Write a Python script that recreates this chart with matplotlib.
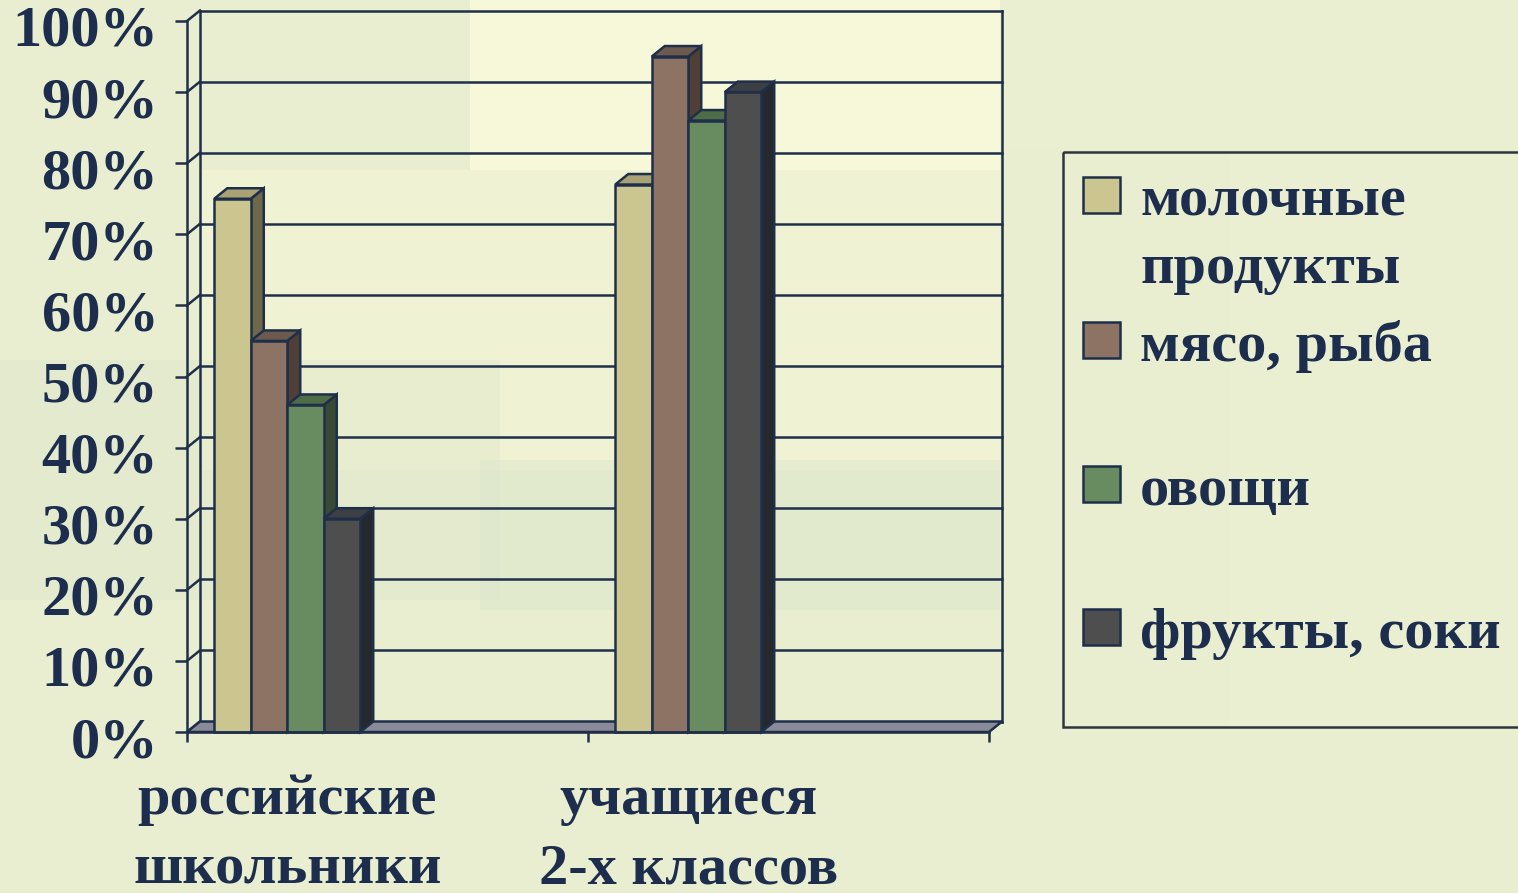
import matplotlib.pyplot as plt
from matplotlib.patches import Polygon, Rectangle
from matplotlib.transforms import Affine2D, ScaledTranslation
from matplotlib.ticker import PercentFormatter

categories = ['российские\nшкольники', 'учащиеся\n2-х классов']
series = ['молочные\nпродукты', 'мясо, рыба', 'овощи', 'фрукты, соки']
values = [
    [75, 77],   # молочные продукты
    [55, 95],   # мясо, рыба
    [46, 86],   # овощи
    [30, 90],   # фрукты, соки
]
y_ticks = list(range(0, 101, 10))

front_colors = ['#cbc590', '#8c7363', '#688b5f', '#4e4e4e']
top_colors = ['#a8a274', '#6d5a4e', '#4f6c48', '#3c3f45']
side_colors = ['#6d6849', '#4f3f36', '#384a33', '#25292d']
edge = '#1f2f4a'
text_color = '#1c2d4d'
font = 'Liberation Serif'
fsize = 42

W, H = 1518, 893
fig = plt.figure(figsize=(W / 100, H / 100), dpi=100)
fig.patch.set_facecolor('#e8eecf')

# pixel coords (origin top-left) for decoration / legend
px = Affine2D().scale(1 / W, -1 / H).translate(0, 1) + fig.transFigure

# soft photo-like background blocks
for (x, y, w, h, c, a) in [
    (470, 0, 530, 170, '#fbfbdc', 0.8),
    (200, 170, 800, 300, '#f6f7d8', 0.5),
    (0, 360, 500, 240, '#dfe6cd', 0.4),
    (480, 460, 520, 150, '#d9e4cc', 0.4),
    (1000, 0, 518, 150, '#eef1d4', 0.5),
    (1230, 150, 288, 580, '#f1f3d6', 0.4),
]:
    fig.patches.append(Rectangle((x, y), w, h, transform=px, facecolor=c,
                                 alpha=a, edgecolor='none', zorder=-5))

ax = fig.add_axes([187 / W, (H - 732) / H, 802 / W, 711 / H])
ax.patch.set_alpha(0)
xmin, xmax = -0.25, 1.75
ax.set_xlim(xmin, xmax)
ax.set_ylim(0, 100)

# depth offset in data units
dx = 13 / 401
dy = 10.5 / 7.11

lw = 1.8
# back wall grid lines and edges
for t in y_ticks:
    ax.plot([xmin + dx, xmax + dx], [t + dy, t + dy], color=edge, lw=lw,
            clip_on=False, zorder=1)
    ax.plot([xmin, xmin + dx], [t, t + dy], color=edge, lw=lw,
            clip_on=False, zorder=1)
ax.plot([xmin + dx, xmin + dx], [dy, 100 + dy], color=edge, lw=lw,
        clip_on=False, zorder=1)
ax.plot([xmax + dx, xmax + dx], [dy, 100 + dy], color=edge, lw=lw,
        clip_on=False, zorder=1)

# floor
ax.add_patch(Polygon([(xmin, 0), (xmax, 0), (xmax + dx, dy), (xmin + dx, dy)],
                     closed=True, facecolor='#8b8a98', edgecolor=edge, lw=lw,
                     clip_on=False, zorder=2))

# 3D-style bars
n = len(series)
bw = 0.091
for ci in range(len(categories)):
    for si in range(n):
        v = values[si][ci]
        x0 = ci + (si - n / 2) * bw
        x1 = x0 + bw
        z = 3 + si * 0.1 + ci
        ax.add_patch(Polygon([(x1, 0), (x1, v), (x1 + dx, v + dy), (x1 + dx, dy)],
                             closed=True, facecolor=side_colors[si],
                             edgecolor=edge, lw=lw, clip_on=False, zorder=z))
        ax.add_patch(Polygon([(x0, v), (x0 + dx, v + dy), (x1 + dx, v + dy), (x1, v)],
                             closed=True, facecolor=top_colors[si],
                             edgecolor=edge, lw=lw, clip_on=False, zorder=z + 0.01))
        ax.bar(x0, v, width=bw, align='edge', color=front_colors[si],
               edgecolor=edge, lw=lw, clip_on=False, zorder=z + 0.02)

for s in ['top', 'right']:
    ax.spines[s].set_visible(False)
for s in ['left', 'bottom']:
    ax.spines[s].set_color(edge)
    ax.spines[s].set_linewidth(lw)
    ax.spines[s].set_zorder(10)

ax.set_yticks(y_ticks)
ax.yaxis.set_major_formatter(PercentFormatter(100, decimals=0))
ax.tick_params(axis='y', length=8.6, width=lw, color=edge, pad=12,
               labelsize=fsize, labelcolor=text_color)
shift = ScaledTranslation(0, -0.05, fig.dpi_scale_trans)
for lab in ax.get_yticklabels():
    lab.set_fontfamily(font)
    lab.set_fontweight('bold')
    lab.set_transform(lab.get_transform() + shift)

ax.set_xticks([xmin, 0.75, xmax])
ax.set_xticklabels([])
ax.tick_params(axis='x', which='major', length=7.2, width=lw, color=edge)
ax.set_xticks(range(len(categories)), minor=True)
ax.set_xticklabels(categories, minor=True, fontfamily=font, fontweight='bold',
                   fontsize=fsize, color=text_color, linespacing=1.45)
ax.tick_params(axis='x', which='minor', length=0, pad=30)

# legend box drawn in pixel coordinates
fig.patches.append(Rectangle((1063, 152), 480, 575, transform=px,
                             facecolor='none', edgecolor='#2f3540', lw=1.8))
square_tops = [177, 322, 466, 609]
for si, label in enumerate(series):
    top = square_tops[si]
    fig.patches.append(Rectangle((1083, top), 37, 36, transform=px,
                                 facecolor=front_colors[si], edgecolor=edge, lw=1.8))
    for j, line in enumerate(label.split('\n')):
        fig.text(1140 / W, 1 - (top + 39 + j * 67) / H, line, fontfamily=font,
                 fontweight='bold', fontsize=fsize, color=text_color,
                 va='baseline', ha='left')

fig.savefig('out.png', dpi=100, facecolor=fig.get_facecolor())
